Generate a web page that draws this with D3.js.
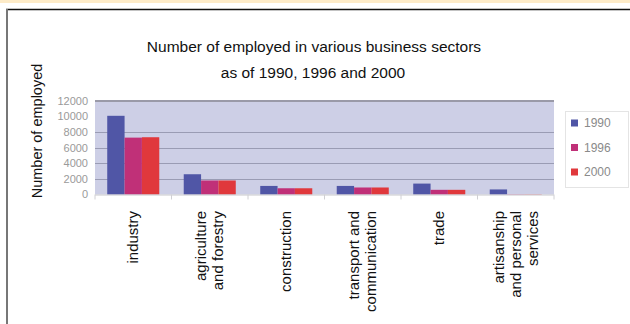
<!DOCTYPE html>
<html>
<head>
<meta charset="utf-8">
<style>
    body { margin: 0; background: #fff; font-family: "Liberation Sans", Arial, sans-serif; }
    .grid line { stroke: #9a9cb4; stroke-width: 1px; }
    .ylab { fill: #9a9a9a; font-size: 11px; }
    .xlab { fill: #111; font-size: 15px; }
</style>
<script src="https://d3js.org/d3.v7.min.js"></script>
</head>
<body>
<svg id="chart" width="630" height="324"></svg>
<script>
const sectors = [
    ['industry'],
    ['agriculture', 'and forestry'],
    ['construction'],
    ['transport and', 'communication'],
    ['trade'],
    ['artisanship', 'and personal', 'services']
];
const years = ['1990', '1996', '2000'];
const v1990 = [10100, 2600, 1100, 1100, 1400, 650];
const v1996 = [7300, 1800, 800, 900, 600, 40];
const v2000 = [7350, 1800, 800, 900, 600, 40];
const yTicks = [0, 2000, 4000, 6000, 8000, 10000, 12000];
const colors = ['#5056a6', '#c03078', '#e0383c'];

const series = [v1990, v1996, v2000];
const svg = d3.select('#chart');

// frame of the page around the chart
svg.append('rect').attr('x', 0).attr('y', 0).attr('width', 630).attr('height', 3).attr('fill', '#fdebc8');
svg.append('line').attr('x1', 6).attr('x2', 630).attr('y1', 9.5).attr('y2', 9.5).attr('stroke', '#111').attr('stroke-width', 1.5);
svg.append('line').attr('x1', 7).attr('x2', 7).attr('y1', 9).attr('y2', 324).attr('stroke', '#777').attr('stroke-width', 2);

const plot = { left: 95, right: 554, top: 101, bottom: 194.5 };

const x0 = d3.scaleBand()
    .domain(d3.range(sectors.length))
    .range([plot.left, plot.right])
    .paddingInner(0.32)
    .paddingOuter(0.16);

const x1 = d3.scaleBand()
    .domain(d3.range(years.length))
    .range([0, x0.bandwidth()]);

const y = d3.scaleLinear()
    .domain([0, 12000])
    .range([plot.bottom, plot.top]);

// plot background
svg.append('rect')
    .attr('x', plot.left).attr('y', plot.top)
    .attr('width', plot.right - plot.left).attr('height', plot.bottom - plot.top)
    .attr('fill', '#cdcfe6');

svg.append('g').attr('class', 'grid')
    .selectAll('line')
    .data(yTicks.filter(t => t > 0 && t < 10000))
    .join('line')
    .attr('x1', plot.left).attr('x2', plot.right)
    .attr('y1', d => Math.round(y(d)) + 0.5).attr('y2', d => Math.round(y(d)) + 0.5);

svg.append('line')
    .attr('x1', plot.left).attr('x2', plot.right)
    .attr('y1', y(12000)).attr('y2', y(12000))
    .attr('stroke', '#9a9aa8').attr('stroke-width', 2);

// bars
const groups = svg.append('g').selectAll('g')
    .data(sectors)
    .join('g')
    .attr('transform', (d, i) => `translate(${x0(i)},0)`);

groups.selectAll('rect')
    .data((d, i) => series.map((s, k) => ({ k, v: s[i] })))
    .join('rect')
    .attr('x', d => x1(d.k))
    .attr('width', x1.bandwidth())
    .attr('y', d => y(d.v))
    .attr('height', d => y(0) - y(d.v))
    .attr('fill', d => colors[d.k]);

// x axis line and ticks
svg.append('line')
    .attr('x1', plot.left).attr('x2', plot.right)
    .attr('y1', plot.bottom + 0.5).attr('y2', plot.bottom + 0.5)
    .attr('stroke', '#c8c8cc');

svg.append('g').selectAll('line')
    .data(d3.range(sectors.length + 1))
    .join('line')
    .attr('x1', i => plot.left + i * (plot.right - plot.left) / sectors.length)
    .attr('x2', i => plot.left + i * (plot.right - plot.left) / sectors.length)
    .attr('y1', plot.bottom).attr('y2', plot.bottom + 5)
    .attr('stroke', '#d0d0d4');

// y tick labels
svg.append('g').selectAll('text')
    .data(yTicks)
    .join('text')
    .attr('class', 'ylab')
    .attr('x', 88)
    .attr('y', d => y(d))
    .attr('dy', '0.35em')
    .attr('text-anchor', 'end')
    .text(d => d);

// category labels, rotated
const lineH = 17;
svg.append('g').selectAll('text')
    .data(sectors)
    .join('text')
    .attr('class', 'xlab')
    .attr('text-anchor', 'end')
    .attr('transform', (d, i) => {
        const cx = x0(i) + x0.bandwidth() / 2;
        return `translate(${cx - (d.length - 1) * lineH / 2 + 5},211) rotate(-90)`;
    })
    .each(function (d) {
        d3.select(this).selectAll('tspan')
            .data(d)
            .join('tspan')
            .attr('x', 0)
            .attr('y', (t, j) => j * lineH)
            .text(t => t);
    });

// title
svg.append('text')
    .attr('x', 314).attr('y', 52)
    .attr('text-anchor', 'middle')
    .attr('font-size', 15.5).attr('fill', '#111')
    .text('Number of employed in various business sectors');
svg.append('text')
    .attr('x', 313).attr('y', 78)
    .attr('text-anchor', 'middle')
    .attr('font-size', 15.5).attr('fill', '#111')
    .text('as of 1990, 1996 and 2000');

// y axis title
svg.append('text')
    .attr('transform', 'translate(42,131) rotate(-90)')
    .attr('text-anchor', 'middle')
    .attr('font-size', 14.5).attr('fill', '#111')
    .text('Number of employed');

// legend
const lg = svg.append('g');
lg.append('rect')
    .attr('x', 565.5).attr('y', 111.5).attr('width', 63).attr('height', 76)
    .attr('fill', '#fff').attr('stroke', '#e4e4e4');
const items = lg.selectAll('g.item')
    .data(years)
    .join('g').attr('class', 'item')
    .attr('transform', (d, i) => `translate(571,${123 + i * 24.5})`);
items.append('rect')
    .attr('x', 0).attr('y', -3.5).attr('width', 7).attr('height', 7)
    .attr('fill', (d, i) => colors[i]);
items.append('text')
    .attr('x', 13).attr('dy', '0.35em')
    .attr('font-size', 12).attr('fill', '#8a8a8a')
    .text(d => d);
</script>
</body>
</html>
